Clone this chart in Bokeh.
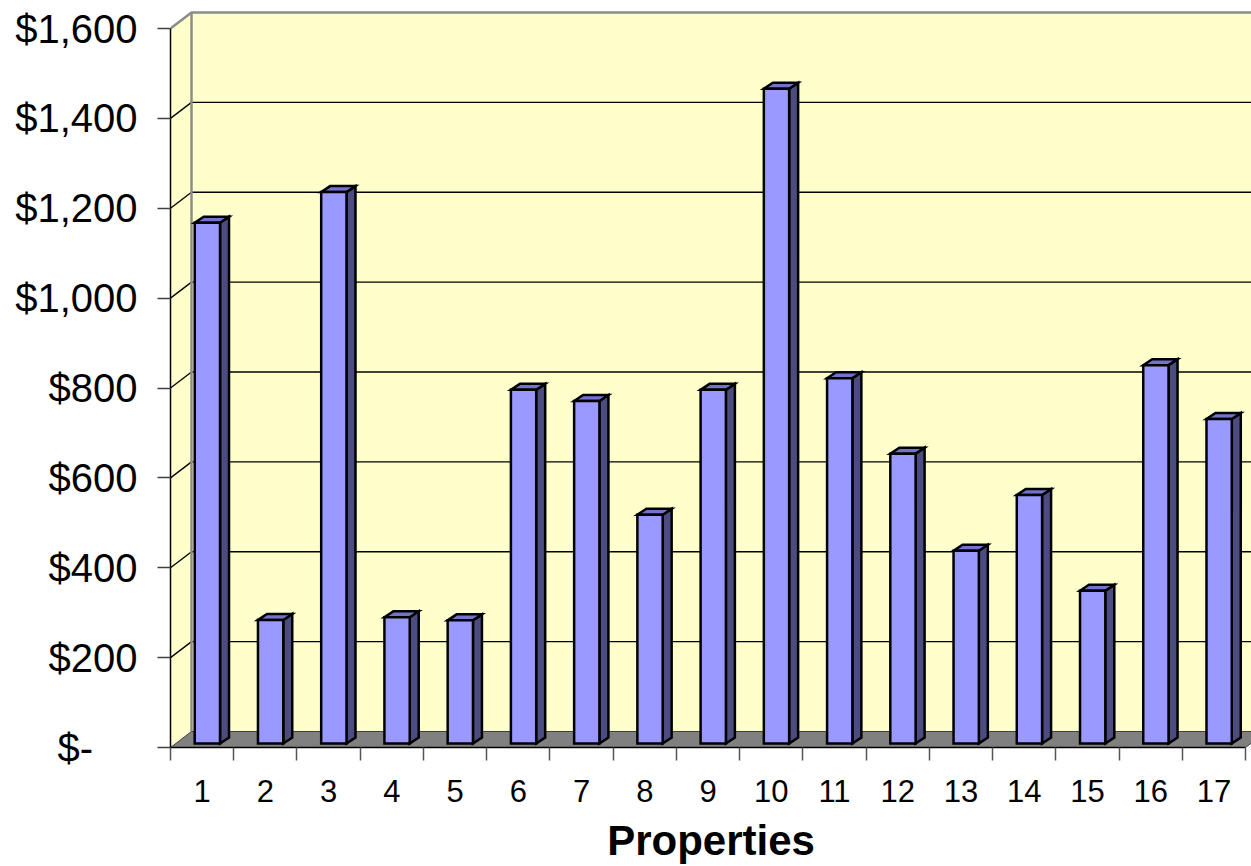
from bokeh.plotting import figure
from bokeh.models import FixedTicker, Range1d
from bokeh.embed import file_html
from bokeh.resources import INLINE

# ---- data ----
categories = ["1", "2", "3", "4", "5", "6", "7", "8", "9", "10",
              "11", "12", "13", "14", "15", "16", "17"]
values = [1159, 275, 1227, 281, 274, 787, 762, 509, 787, 1457,
          813, 645, 429, 553, 340, 842, 722]
y_tick_values = [0, 200, 400, 600, 800, 1000, 1200, 1400, 1600]
y_tick_labels = ["$-\u00a0\u00a0\u00a0\u00a0", "$200", "$400", "$600", "$800",
                 "$1,000", "$1,200", "$1,400", "$1,600"]
x_title = "Properties"

# ---- geometry (pixel layout of the 3-D look) ----
W, H = 1251, 866
LEFT, RIGHT, TOP, BOTTOM = 170, 1251, 8, 747
n = len(categories)
ymax = y_tick_values[-1]
px_x = (1245 - LEFT) / n                # pixels per category
px_y = (BOTTOM - 28) / ymax             # pixels per dollar
x_end = (RIGHT - LEFT) / px_x
y_end = (BOTTOM - TOP) / px_y
DX, DY = 21 / px_x, 16 / px_y           # wall depth offset
f0 = 0.25                                # bar front depth fraction
bdx, bdy = 9 / px_x, 6 / px_y            # bar depth offset
bw = 0.40                                # bar width (category units)
boff = 0.30                              # bar left inset

p = figure(width=W, height=H, output_backend="svg", toolbar_location=None,
           x_range=Range1d(0, x_end), y_range=Range1d(0, y_end),
           min_border_left=LEFT, min_border_right=0,
           min_border_top=TOP, min_border_bottom=H - BOTTOM)
p.outline_line_color = None
p.xgrid.visible = False
p.ygrid.visible = False
p.background_fill_color = "white"
p.border_fill_color = "white"

WALL = "#FFFFCC"
EDGE = "#8C8C8C"

# back wall
p.patch([DX, x_end + 1, x_end + 1, DX], [DY, DY, ymax + DY, ymax + DY],
        fill_color=WALL, line_color=None)
# side wall
p.patch([0, DX, DX, 0], [0, DY, ymax + DY, ymax], fill_color=WALL, line_color=None)

# grid lines on back wall and side wall
for v in y_tick_values[1:-1]:
    p.line([DX, x_end + 1], [v + DY, v + DY], line_color="black", line_width=1.3)
    p.line([0, DX], [v, v + DY], line_color="black", line_width=1.3)

# wall borders
p.line([DX, DX], [DY, ymax + DY], line_color=EDGE, line_width=2.5)
p.line([0, DX, x_end + 1], [ymax, ymax + DY, ymax + DY], line_color=EDGE, line_width=2.5)

# floor
p.patch([0, n, n + DX, DX], [0, 0, DY, DY], fill_color="#808080",
        line_color="#404040", line_width=1)

# bars
fx, fy, sx, sy, tx, ty = [], [], [], [], [], []
for i, v in enumerate(values):
    xl = i + boff + f0 * DX
    xr = xl + bw
    yb = f0 * DY
    yt = v + f0 * DY
    fx.append([xl, xr, xr, xl]); fy.append([yb, yb, yt, yt])
    sx.append([xr, xr + bdx, xr + bdx, xr]); sy.append([yb, yb + bdy, yt + bdy, yt])
    tx.append([xl, xr, xr + bdx, xl + bdx]); ty.append([yt, yt, yt + bdy, yt + bdy])

p.patches(sx, sy, fill_color="#4C4C80", line_color="black", line_width=2.5, line_join="miter")
p.patches(tx, ty, fill_color="#7373CC", line_color="black", line_width=2.5, line_join="miter")
p.patches(fx, fy, fill_color="#9999FF", line_color="black", line_width=2.5, line_join="miter")

# y axis
ya = p.yaxis[0]
ya.ticker = FixedTicker(ticks=y_tick_values)
ya.major_label_overrides = {t: lab for t, lab in zip(y_tick_values, y_tick_labels)}
ya.bounds = (0, ymax)
ya.axis_line_color = "black"
ya.axis_line_width = 1.5
ya.major_tick_out = 13
ya.major_tick_in = 0
ya.major_tick_line_color = "#404040"
ya.major_tick_line_width = 1.5
ya.minor_tick_line_color = None
ya.major_label_standoff = 20
ya.major_label_text_font = "Liberation Sans"
ya.major_label_text_font_size = "40px"
ya.major_label_text_color = "black"

# x axis
xa = p.xaxis[0]
xa.ticker = FixedTicker(ticks=[i + 0.5 for i in range(n)],
                        minor_ticks=list(range(n + 1)))
xa.major_label_overrides = {i + 0.5: lab for i, lab in enumerate(categories)}
xa.bounds = (0, n)
xa.axis_line_color = "black"
xa.axis_line_width = 1.5
xa.major_tick_out = 0
xa.major_tick_in = 0
xa.minor_tick_out = 13
xa.minor_tick_in = 0
xa.minor_tick_line_color = "#555555"
xa.minor_tick_line_width = 1.5
xa.major_label_standoff = 19
xa.major_label_text_font = "Liberation Sans"
xa.major_label_text_font_size = "31px"
xa.major_label_text_color = "black"
xa.axis_label = x_title
xa.axis_label_text_font = "Liberation Sans"
xa.axis_label_text_font_style = "bold"
xa.axis_label_text_font_size = "42px"
xa.axis_label_text_color = "black"
xa.axis_label_standoff = 12

open("out.html", "w").write(file_html(p, INLINE))
